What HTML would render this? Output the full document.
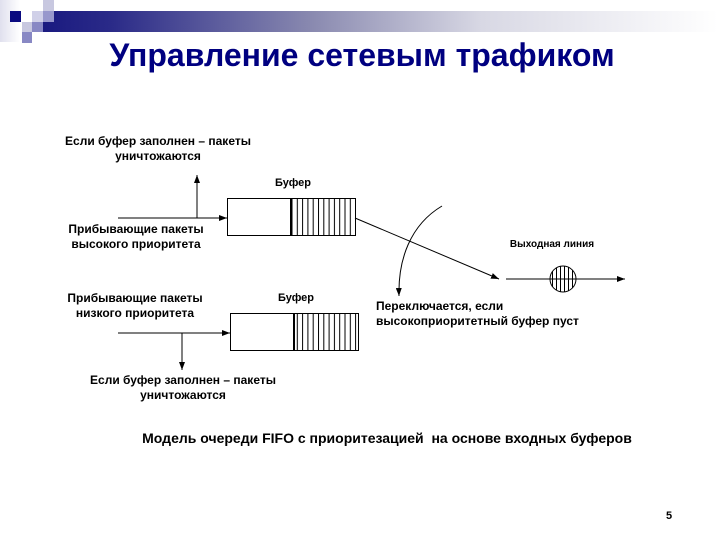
<!DOCTYPE html>
<html><head><meta charset="utf-8"><style>
body{margin:0;width:718px;height:539px;background:#fff;position:relative;overflow:hidden;font-family:"Liberation Sans",Arial,sans-serif}
.a{position:absolute}
.t{position:absolute;font-size:12px;font-weight:bold;color:#000;text-align:center;white-space:nowrap;line-height:15px}
</style></head><body>
<div class="a" style="left:0;top:0;width:20px;height:42px;background:linear-gradient(90deg,#e0e0ee,#fff)"></div>
<div class="a" style="left:43px;top:11px;width:675px;height:21px;background:linear-gradient(90deg,#1a1a80 0%,#2a2a88 10%,#8a8ab0 40%,#d8d8e4 65%,#fff 100%)"></div>
<div class="a" style="left:10px;top:11px;width:11px;height:11px;background:#0a0a80"></div>
<div class="a" style="left:43px;top:0;width:11px;height:11px;background:#c8c8e0"></div>
<div class="a" style="left:32px;top:11px;width:11px;height:11px;background:#d0d0e8"></div>
<div class="a" style="left:43px;top:11px;width:11px;height:11px;background:#9898cc"></div>
<div class="a" style="left:22px;top:22px;width:11px;height:10px;background:#c8c8e0"></div>
<div class="a" style="left:32px;top:22px;width:11px;height:10px;background:#8888c4"></div>
<div class="a" style="left:22px;top:32px;width:10px;height:11px;background:#8888c4"></div>
<div class="a" style="left:0;top:37px;width:718px;text-align:center;font-size:32px;font-weight:bold;color:#000080;transform:translateX(3px)">Управление сетевым трафиком</div>

<svg class="a" style="left:0;top:0" width="718" height="539">
<defs><marker id="m" markerWidth="8" markerHeight="6" refX="8" refY="3" orient="auto" markerUnits="userSpaceOnUse"><path d="M0,0L8,3L0,6z" fill="#000"/></marker>
<pattern id="h" width="5.3" height="10" patternUnits="userSpaceOnUse"><line x1="0.5" y1="0" x2="0.5" y2="10" stroke="#000" stroke-width="1"/></pattern>
<pattern id="h2" width="4" height="10" patternUnits="userSpaceOnUse"><line x1="0.5" y1="0" x2="0.5" y2="10" stroke="#000" stroke-width="1"/></pattern></defs>
<g stroke="#000" fill="none">
<rect x="227.5" y="198.5" width="128" height="37" fill="#fff"/>
<rect x="291" y="198.5" width="64.5" height="37" fill="url(#h)"/>
<line x1="291" y1="198" x2="291" y2="236" stroke-width="2"/>
<rect x="230.5" y="313.5" width="128" height="37" fill="#fff"/>
<rect x="294" y="313.5" width="64.5" height="37" fill="url(#h)"/>
<line x1="294" y1="313" x2="294" y2="351" stroke-width="2"/>
<line x1="118" y1="218" x2="227" y2="218" marker-end="url(#m)"/>
<line x1="197" y1="218" x2="197" y2="175" marker-end="url(#m)"/>
<line x1="118" y1="333" x2="230" y2="333" marker-end="url(#m)"/>
<line x1="182" y1="333" x2="182" y2="370" marker-end="url(#m)"/>
<line x1="355" y1="218" x2="499" y2="279" marker-end="url(#m)"/>
<path d="M442,206 C410,225 398,260 399,296" marker-end="url(#m)"/>
<line x1="506" y1="279" x2="625" y2="279" marker-end="url(#m)"/>
<circle cx="563" cy="279" r="13" fill="url(#h2)" stroke="#000"/>
</g></svg>

<div class="t" style="left:158px;top:134px;transform:translateX(-50%)">Если буфер заполнен – пакеты<br>уничтожаются</div>
<div class="t" style="left:293px;top:176px;transform:translateX(-50%);font-size:11px">Буфер</div>
<div class="t" style="left:136px;top:222px;transform:translateX(-50%)">Прибывающие пакеты<br>высокого приоритета</div>
<div class="t" style="left:552px;top:237px;transform:translateX(-50%);font-size:10px">Выходная линия</div>
<div class="t" style="left:135px;top:291px;transform:translateX(-50%)">Прибывающие пакеты<br>низкого приоритета</div>
<div class="t" style="left:296px;top:291px;transform:translateX(-50%);font-size:11px">Буфер</div>
<div class="t" style="left:376px;top:299px;text-align:left;font-size:12px">Переключается, если<br>высокоприоритетный буфер пуст</div>
<div class="t" style="left:183px;top:373px;transform:translateX(-50%)">Если буфер заполнен – пакеты<br>уничтожаются</div>
<div class="t" style="left:387px;top:431px;transform:translateX(-50%);font-size:14px">Модель очереди FIFO с приоритезацией&nbsp; на основе входных буферов</div>
<div class="t" style="left:666px;top:509px;font-size:11px">5</div>
</body></html>
